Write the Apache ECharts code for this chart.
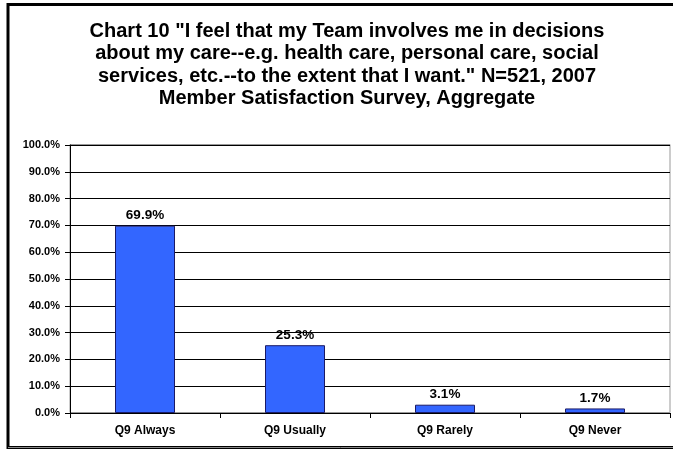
<!DOCTYPE html>
<html>
<head>
<meta charset="utf-8">
<script src="https://cdn.jsdelivr.net/npm/echarts@6/dist/echarts.min.js"></script>
<style>
html,body{margin:0;padding:0;background:#fff;}
#chart{width:673px;height:449px;}
</style>
</head>
<body>
<div id="chart"></div>
<script>
const categories = ["Q9 Always", "Q9 Usually", "Q9 Rarely", "Q9 Never"];
const values = [69.9, 25.3, 3.1, 1.7];
const titleText = 'Chart 10 "I feel that my Team involves me in decisions\nabout my care--e.g. health care, personal care, social\nservices, etc.--to the extent that I want." N=521, 2007\nMember Satisfaction Survey, Aggregate';

const chart = echarts.init(document.getElementById('chart'), null, {renderer: 'canvas'});
chart.setOption({
  animation: false,
  backgroundColor: '#fff',
  title: {
    text: titleText,
    left: 342,
    textAlign: 'center',
    top: 15.5,
    textStyle: {fontFamily: 'Liberation Sans, Arial', fontWeight: 'bold', fontSize: 20, lineHeight: 22.3, color: '#000'}
  },
  graphic: [
    {type: 'rect', shape: {x: 8, y: 4.5, width: 700, height: 443}, style: {fill: 'none', stroke: '#000', lineWidth: 3}, z: -1},
    {type: 'line', shape: {x1: 8, y1: 447.5, x2: 673, y2: 447.5}, style: {stroke: '#888', lineWidth: 1}, z: 0},
    {type: 'rect', shape: {x: 70, y: 144.5, width: 600, height: 268}, style: {fill: 'none', stroke: '#999', lineWidth: 1}, z: 0}
  ],
  grid: {left: 70, right: 3, top: 145, bottom: 36, containLabel: false},
  xAxis: {
    type: 'category',
    data: categories,
    axisLine: {lineStyle: {color: '#000', width: 1}},
    axisTick: {show: true, inside: false, length: 5, lineStyle: {color: '#000'}},
    axisLabel: {fontFamily: 'Liberation Sans, Arial', fontWeight: 'bold', fontSize: 12, color: '#000', margin: 12}
  },
  yAxis: {
    type: 'value',
    min: 0, max: 100, interval: 10,
    axisLine: {show: true, lineStyle: {color: '#000'}},
    axisTick: {show: true, length: 5, lineStyle: {color: '#000'}},
    splitLine: {show: true, lineStyle: {color: '#000', width: 1}},
    axisLabel: {formatter: v => v.toFixed(1) + '%', fontFamily: 'Liberation Sans, Arial', fontWeight: 'bold', fontSize: 11, color: '#000', margin: 10}
  },
  series: [{
    type: 'bar',
    data: values,
    barWidth: '40%',
    itemStyle: {color: '#3366FF', borderColor: '#1a1a66', borderWidth: 1},
    label: {show: true, position: 'top', distance: 3, formatter: p => p.value.toFixed(1) + '%', fontFamily: 'Liberation Sans, Arial', fontWeight: 'bold', fontSize: 13.5, color: '#000'}
  }]
});
</script>
</body>
</html>
